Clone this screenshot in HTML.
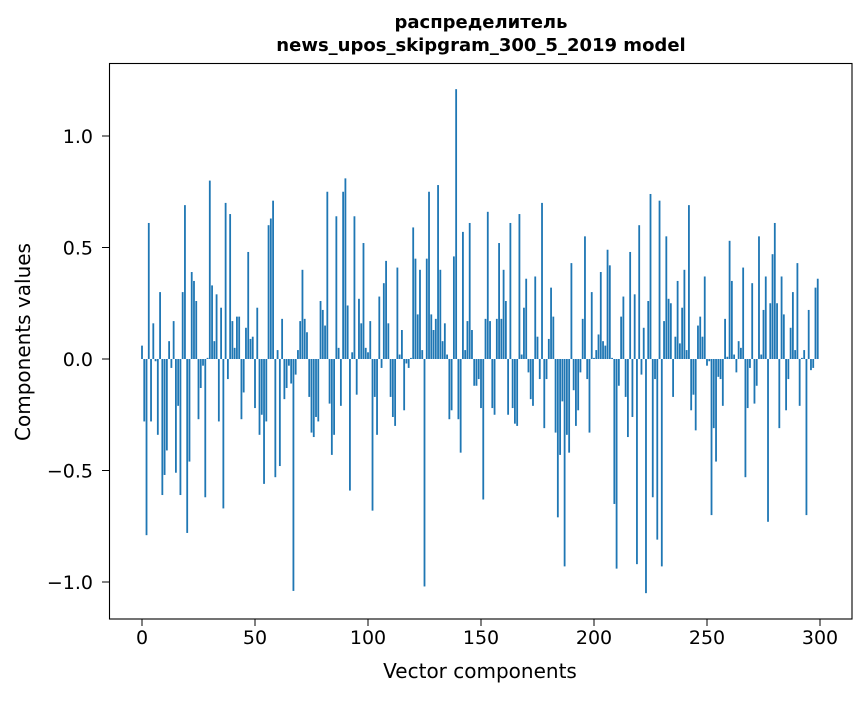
<!DOCTYPE html>
<html><head><meta charset="utf-8"><style>
html,body{margin:0;padding:0;background:#fff;}
svg text{font-family:"DejaVu Sans","Liberation Sans",sans-serif;fill:#000;}
</style></head><body>
<svg id="chart" width="867" height="696" xmlns="http://www.w3.org/2000/svg">
<rect width="867" height="696" fill="#fff"/>
<text x="481" y="28" text-anchor="middle" font-size="18" font-weight="bold">распределитель</text>
<text x="481" y="51" text-anchor="middle" font-size="18" font-weight="bold">news_upos_skipgram_300_5_2019 model</text>
<g id="bars"></g>
<g id="xticks"></g>
<g id="yticks"></g>
<rect x="109.5" y="63.5" width="742.5" height="555.5" fill="none" stroke="#000" stroke-width="1.1"/>
<text x="480" y="678" text-anchor="middle" font-size="20">Vector components</text>
<text transform="translate(30,342) rotate(-90)" text-anchor="middle" font-size="20">Components values</text>
</svg>
<script>
const values = [0.06,-0.28,-0.79,0.61,-0.28,0.16,-0.01,-0.34,0.30,-0.61,
-0.52,-0.41,0.08,-0.04,0.17,-0.51,-0.21,-0.61,0.30,0.69,
-0.78,-0.46,0.39,0.35,0.26,-0.27,-0.13,-0.03,-0.62,0.005,
0.80,0.33,0.08,0.29,-0.28,0.23,-0.67,0.70,-0.09,0.65,
0.17,0.05,0.19,0.19,-0.27,-0.15,0.14,0.48,0.09,0.10,
-0.22,0.23,-0.34,-0.25,-0.56,-0.28,0.60,0.63,0.71,-0.53,
0.04,-0.48,0.18,-0.18,-0.13,-0.03,-0.11,-1.04,-0.07,0.04,
0.17,0.40,0.18,0.12,-0.17,-0.33,-0.35,-0.26,-0.28,0.26,
0.22,0.15,0.75,-0.20,-0.43,-0.34,0.64,0.05,-0.21,0.75,
0.81,0.24,-0.59,0.03,0.64,-0.16,0.27,0.16,0.52,0.05,
0.03,0.17,-0.68,-0.17,-0.34,0.28,-0.04,0.34,0.44,0.16,
-0.17,-0.26,-0.30,0.41,0.02,0.13,-0.23,-0.02,-0.04,0.005,
0.59,0.45,0.20,0.40,0.04,-1.02,0.45,0.75,0.20,0.13,
0.18,0.78,0.40,0.08,0.16,0.02,-0.27,-0.23,0.46,1.21,
-0.27,-0.42,0.57,0.04,0.17,0.61,0.13,-0.12,-0.12,-0.09,
-0.22,-0.63,0.18,0.66,0.17,-0.22,-0.25,0.18,0.52,0.18,
0.40,0.26,-0.25,0.61,-0.22,-0.29,-0.30,0.65,0.02,0.23,
0.36,-0.06,-0.18,-0.21,0.37,0.10,-0.09,0.70,-0.31,-0.09,
0.09,0.32,0.19,-0.33,-0.71,-0.43,-0.19,-0.93,-0.34,-0.42,
0.43,-0.14,-0.30,-0.23,-0.06,0.18,0.55,-0.09,-0.33,0.30,
0.005,0.04,0.11,0.39,0.08,0.06,0.49,0.42,0.005,-0.65,
-0.94,-0.12,0.19,0.28,-0.17,-0.35,0.48,-0.26,0.29,-0.92,
0.60,-0.07,0.14,-1.05,0.26,0.74,-0.62,-0.09,-0.81,0.71,
-0.93,0.17,0.55,0.27,0.25,-0.17,0.10,0.35,0.07,0.23,
0.40,0.04,0.69,-0.23,-0.16,-0.32,0.15,0.19,0.10,0.37,
-0.03,-0.01,-0.70,-0.31,-0.46,-0.08,-0.09,-0.21,0.18,0.01,
0.53,0.35,0.02,-0.06,0.08,0.05,0.41,-0.53,-0.22,-0.04,
0.34,-0.20,-0.12,0.55,0.02,0.22,0.37,-0.73,0.25,0.47,
0.61,0.25,-0.31,0.37,0.20,-0.23,-0.09,0.14,0.30,0.04,
0.43,-0.21,0.005,0.04,-0.70,0.22,-0.05,-0.04,0.32,0.36];
const xTicks = [0,50,100,150,200,250,300];
const yTicks = [-1.0,-0.5,0.0,0.5,1.0];
const yTickLabels = ["\u22121.0","\u22120.5","0.0","0.5","1.0"];

const X0=142, XS=2.26, Y0=359, YS=223;
function xs(i){return X0+i*XS;}
function ys(v){return Y0-v*YS;}
const NS="http://www.w3.org/2000/svg";
const bars=document.getElementById('bars');
values.forEach((v,i)=>{
  const r=document.createElementNS(NS,'rect');
  const w=0.8*XS;
  const top=Math.min(ys(v),ys(0)), h=Math.abs(ys(v)-ys(0));
  r.setAttribute('x',xs(i)-w/2);
  r.setAttribute('y',top);
  r.setAttribute('width',w);
  r.setAttribute('height',Math.max(h,0.3));
  r.setAttribute('fill','#1f77b4');
  
  
  bars.appendChild(r);
});
const xg=document.getElementById('xticks');
xTicks.forEach(t=>{
  const l=document.createElementNS(NS,'line');
  l.setAttribute('x1',xs(t));l.setAttribute('x2',xs(t));
  l.setAttribute('y1',619);l.setAttribute('y2',626);
  l.setAttribute('stroke','#000');
  
  
  xg.appendChild(l);
  const tx=document.createElementNS(NS,'text');
  tx.setAttribute('x',xs(t));tx.setAttribute('y',644);
  tx.setAttribute('text-anchor','middle');tx.setAttribute('font-size','19');
  tx.textContent=String(t);
  
  
  xg.appendChild(tx);
});
const yg=document.getElementById('yticks');
yTicks.forEach((t,k)=>{
  const l=document.createElementNS(NS,'line');
  l.setAttribute('x1',102);l.setAttribute('x2',109);
  l.setAttribute('y1',ys(t));l.setAttribute('y2',ys(t));
  l.setAttribute('stroke','#000');
  
  
  yg.appendChild(l);
  const tx=document.createElementNS(NS,'text');
  tx.setAttribute('x',93);tx.setAttribute('y',ys(t)+7);
  tx.setAttribute('text-anchor','end');tx.setAttribute('font-size','19');
  tx.textContent=yTickLabels[k];
  
  
  yg.appendChild(tx);
});
</script>
</body></html>
